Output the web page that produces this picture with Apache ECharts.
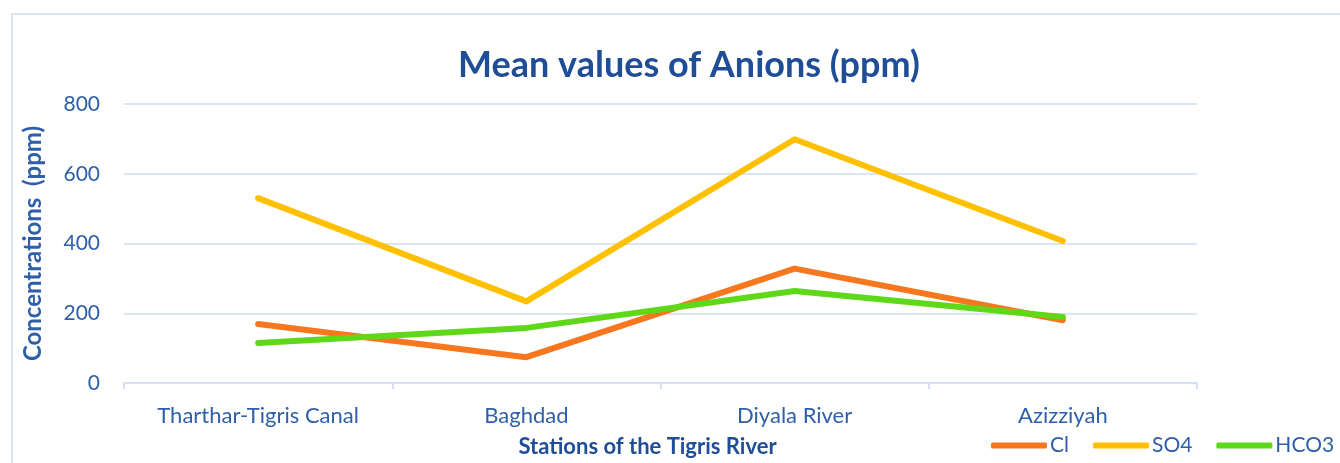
<!DOCTYPE html>
<html>
<head>
<meta charset="utf-8">
<script src="https://cdn.jsdelivr.net/npm/echarts@6/dist/echarts.min.js"></script>
<style>
html,body{margin:0;padding:0;background:#fff;}
#chart{width:1340px;height:463px;}
</style>
</head>
<body>
<div id="chart"></div>
<script>
const categories = ['Tharthar-Tigris Canal', 'Baghdad', 'Diyala River', 'Azizziyah'];
const clValues = [169, 74, 328, 180];
const so4Values = [530, 234, 699, 407];
const hco3Values = [115, 158, 264, 189];
const yTicks = [0, 200, 400, 600, 800];

const FONT = 'Lato';
const BLUE = '#2F5FA8';
const chart = echarts.init(document.getElementById('chart'));
chart.setOption({
  backgroundColor: '#fff',
  animation: false,
  title: {
    text: 'Mean values of Anions (ppm)',
    left: 684, top: 42, textAlign: 'center',
    textStyle: { fontFamily: FONT, fontSize: 36, fontWeight: 'bold', color: '#1F4E96' }
  },
  graphic: [{
    type: 'rect', shape: { x: 12, y: 14, width: 1400, height: 600 },
    style: { fill: 'none', stroke: '#DCE5F5', lineWidth: 2 }, silent: true, z: -1
  }],
  legend: {
    left: 986, top: 430, itemWidth: 56, itemHeight: 6, itemGap: 24, icon: 'roundRect',
    textStyle: { fontFamily: FONT, fontSize: 21, color: BLUE, padding: [0, 0, 0, -2] },
    data: ['Cl', 'SO4', 'HCO3']
  },
  grid: { left: 124, right: 143, top: 104, bottom: 80, containLabel: false },
  xAxis: {
    type: 'category', data: categories, boundaryGap: true,
    name: 'Stations of the Tigris River', nameLocation: 'middle', nameGap: 53,
    nameTextStyle: { fontFamily: FONT, fontSize: 22, fontWeight: 'bold', color: '#1F4E96', padding: [0, 26, 0, 0] },
    axisLine: { lineStyle: { color: '#D6E0F2', width: 2 } },
    axisTick: { show: true, length: 6, lineStyle: { color: '#D6E0F2', width: 2 } },
    axisLabel: { fontFamily: FONT, fontSize: 22, color: BLUE, margin: 22 }
  },
  yAxis: {
    type: 'value', min: 0, max: 800, interval: 200,
    name: 'Concentrations  (ppm)', nameLocation: 'middle', nameGap: 79, nameRotate: 90,
    nameTextStyle: { fontFamily: FONT, fontSize: 24, fontWeight: 'bold', color: BLUE },
    axisLine: { show: false }, axisTick: { show: false },
    splitLine: { lineStyle: { color: '#DCE5F5', width: 2 } },
    axisLabel: {
      fontFamily: FONT, fontSize: 21, color: BLUE, margin: 24,
      formatter: v => yTicks.includes(v) ? String(v) : ''
    }
  },
  series: [
    { name: 'Cl', type: 'line', data: clValues, showSymbol: false, symbol: 'none',
      lineStyle: { width: 6, color: '#F7771F', cap: 'round', join: 'round' }, itemStyle: { color: '#F7771F' }, z: 3 },
    { name: 'SO4', type: 'line', data: so4Values, showSymbol: false, symbol: 'none',
      lineStyle: { width: 6, color: '#FFC000', cap: 'round', join: 'round' }, itemStyle: { color: '#FFC000' }, z: 2 },
    { name: 'HCO3', type: 'line', data: hco3Values, showSymbol: false, symbol: 'none',
      lineStyle: { width: 6, color: '#5FD81A', cap: 'round', join: 'round' }, itemStyle: { color: '#5FD81A' }, z: 4 }
  ]
});
</script>
</body>
</html>
